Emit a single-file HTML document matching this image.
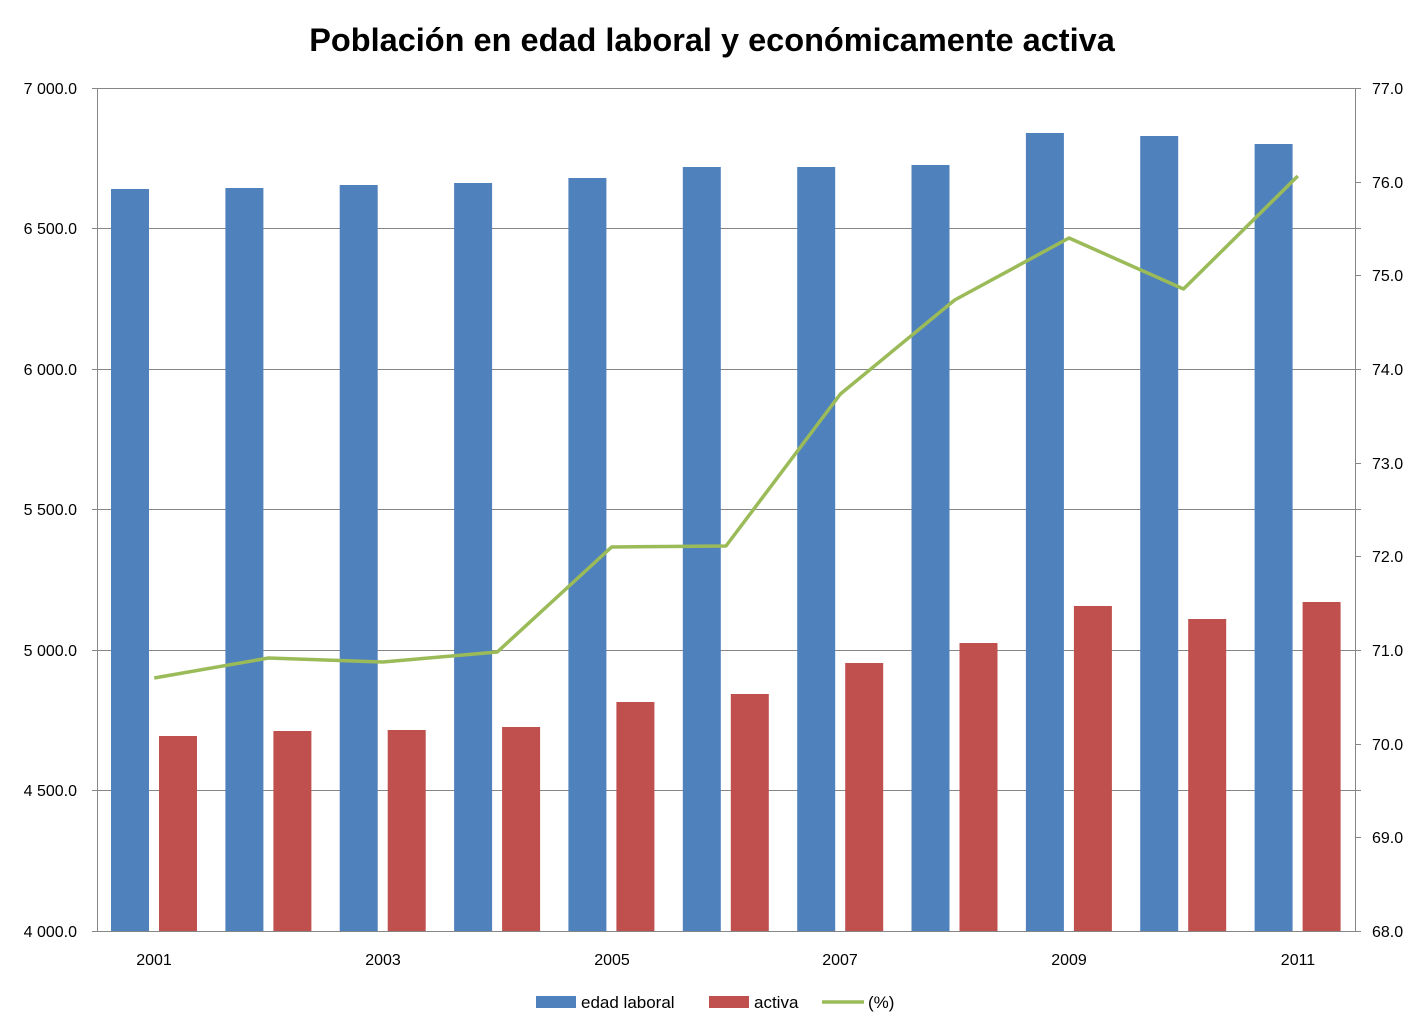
<!DOCTYPE html>
<html><head><meta charset="utf-8"><style>
html,body{margin:0;padding:0;background:#fff}
svg{display:block;font-family:"Liberation Sans",sans-serif}
</style></head><body>
<svg width="1426" height="1035" viewBox="0 0 1426 1035" xmlns="http://www.w3.org/2000/svg">
<rect width="1426" height="1035" fill="#fff"/>
<text x="712" y="51" text-anchor="middle" font-size="32.5" font-weight="bold" fill="#000">Población en edad laboral y económicamente activa</text>
<g stroke="#868686" stroke-width="1">
<line x1="92" y1="88.5" x2="1361" y2="88.5"/>
<line x1="92" y1="228.5" x2="1361" y2="228.5"/>
<line x1="92" y1="369.5" x2="1361" y2="369.5"/>
<line x1="92" y1="509.5" x2="1361" y2="509.5"/>
<line x1="92" y1="650.5" x2="1361" y2="650.5"/>
<line x1="92" y1="790.5" x2="1361" y2="790.5"/>
<line x1="92" y1="931.5" x2="1361" y2="931.5"/>
<line x1="97.5" y1="88" x2="97.5" y2="931"/>
<line x1="1355.5" y1="88" x2="1355.5" y2="931"/>
<line x1="1355" y1="182.5" x2="1361" y2="182.5"/>
<line x1="1355" y1="275.5" x2="1361" y2="275.5"/>
<line x1="1355" y1="369.5" x2="1361" y2="369.5"/>
<line x1="1355" y1="463.5" x2="1361" y2="463.5"/>
<line x1="1355" y1="556.5" x2="1361" y2="556.5"/>
<line x1="1355" y1="650.5" x2="1361" y2="650.5"/>
<line x1="1355" y1="744.5" x2="1361" y2="744.5"/>
<line x1="1355" y1="837.5" x2="1361" y2="837.5"/>
</g>
<g fill="#4f81bd">
<rect x="111" y="189" width="38" height="742"/>
<rect x="225.4" y="188" width="38" height="743"/>
<rect x="339.7" y="185" width="38" height="746"/>
<rect x="454.1" y="183" width="38" height="748"/>
<rect x="568.4" y="178" width="38" height="753"/>
<rect x="682.8" y="167" width="38" height="764"/>
<rect x="797.2" y="167" width="38" height="764"/>
<rect x="911.5" y="165" width="38" height="766"/>
<rect x="1025.9" y="133" width="38" height="798"/>
<rect x="1140.2" y="136" width="38" height="795"/>
<rect x="1254.6" y="144" width="38" height="787"/>
</g>
<g fill="#c0504d">
<rect x="159" y="736" width="38" height="195"/>
<rect x="273.4" y="731" width="38" height="200"/>
<rect x="387.7" y="730" width="38" height="201"/>
<rect x="502.1" y="727" width="38" height="204"/>
<rect x="616.4" y="702" width="38" height="229"/>
<rect x="730.8" y="694" width="38" height="237"/>
<rect x="845.2" y="663" width="38" height="268"/>
<rect x="959.5" y="643" width="38" height="288"/>
<rect x="1073.9" y="606" width="38" height="325"/>
<rect x="1188.2" y="619" width="38" height="312"/>
<rect x="1302.6" y="602" width="38" height="329"/>
</g>
<polyline fill="none" stroke="#9bbb59" stroke-width="3.5" stroke-linejoin="round" points="154.2,678 268.5,658 382.9,662 497.3,652 611.6,547 726,546 840.4,394 954.7,300 1069,238 1183.5,289 1297.8,176"/>
<g font-size="16" fill="#000" text-anchor="end">
<text x="77" y="94">7 000.0</text>
<text x="77" y="234">6 500.0</text>
<text x="77" y="375">6 000.0</text>
<text x="77" y="515">5 500.0</text>
<text x="77" y="656">5 000.0</text>
<text x="77" y="796">4 500.0</text>
<text x="77" y="937">4 000.0</text>
</g>
<g font-size="16" fill="#000">
<text x="1372" y="94">77.0</text>
<text x="1372" y="188">76.0</text>
<text x="1372" y="281">75.0</text>
<text x="1372" y="375">74.0</text>
<text x="1372" y="469">73.0</text>
<text x="1372" y="562">72.0</text>
<text x="1372" y="656">71.0</text>
<text x="1372" y="750">70.0</text>
<text x="1372" y="843">69.0</text>
<text x="1372" y="937">68.0</text>
</g>
<g font-size="16" fill="#000" text-anchor="middle">
<text x="154" y="965">2001</text>
<text x="383" y="965">2003</text>
<text x="612" y="965">2005</text>
<text x="840" y="965">2007</text>
<text x="1069" y="965">2009</text>
<text x="1298" y="965">2011</text>
</g>
<rect x="536" y="996" width="40" height="12" fill="#4f81bd"/>
<text x="581" y="1008" font-size="17">edad laboral</text>
<rect x="709" y="996" width="40" height="12" fill="#c0504d"/>
<text x="754" y="1008" font-size="17">activa</text>
<line x1="822" y1="1002" x2="864" y2="1002" stroke="#9bbb59" stroke-width="3.5"/>
<text x="868" y="1008" font-size="17">(%)</text>
</svg>
</body></html>
